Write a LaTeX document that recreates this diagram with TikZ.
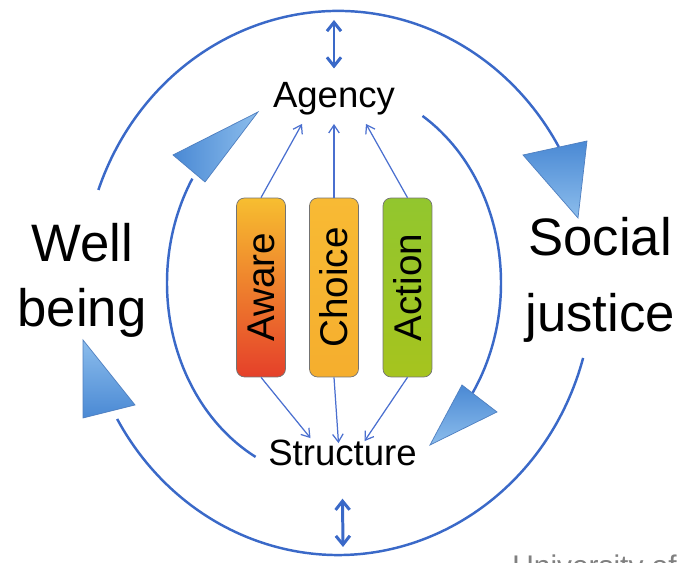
\documentclass[tikz,border=0pt]{standalone}
\usepackage{fontspec}
\setsansfont{Liberation Sans}
\usetikzlibrary{positioning, calc, arrows.meta}

\definecolor{ringblue}{HTML}{3A69C8}
\definecolor{linkblue}{HTML}{4A6FCF}
\definecolor{tridark}{HTML}{4A89D4}
\definecolor{trilight}{HTML}{8CBDEC}
\definecolor{triline}{HTML}{4F7FC0}
\definecolor{awaretop}{HTML}{F7BE30}
\definecolor{awaremid}{HTML}{F2982C}
\definecolor{awarebot}{HTML}{E5402A}
\definecolor{choicetop}{HTML}{F8BA34}
\definecolor{choicebot}{HTML}{F5AE2E}
\definecolor{actiontop}{HTML}{92C62E}
\definecolor{actionbot}{HTML}{A6C41E}

\begin{document}
\begin{tikzpicture}[x=0.02cm, y=0.02cm, font=\sffamily,
    ring/.style={draw=ringblue, line width=1.4pt},
    link/.style={draw=linkblue, line width=0.7pt, -{Straight Barb[length=4.5pt,width=6pt]}},
    updown/.style={draw=ringblue, line width=1.7pt, {Straight Barb[length=5pt,width=8pt]}-{Straight Barb[length=5pt,width=8pt]}},
    tri/.style={draw=triline, line width=0.4pt, top color=tridark, bottom color=trilight, shading angle=#1},
    tri/.default=0,
    bar/.style={draw=black!55, line width=0.4pt, rounded corners=0.16cm, minimum width=0.98cm, minimum height=3.58cm, inner sep=0pt, font=\sffamily\fontsize{22}{26}\selectfont},
    word/.style={inner sep=0pt, anchor=base, font=\sffamily\fontsize{20.8}{25}\selectfont},
    big/.style={inner sep=0pt, anchor=base, font=\sffamily\fontsize{30}{36}\selectfont}]
\useasboundingbox (0,0) rectangle (681,563);
\clip (0,0) rectangle (681,563);

% centres of the two rings
\coordinate (outer) at (338,280);
\coordinate (inner) at (334,280);

% outer ring
\draw[ring] ($(outer)+(160:255 and 272)$) arc[start angle=160, end angle=30, x radius=255, y radius=272];
\draw[ring] ($(outer)+(-16:255 and 272)$) arc[start angle=-16, end angle=-150, x radius=255, y radius=272];
\draw[tri=0] (523,408) -- (587,422) -- (578,345) -- cycle;
\draw[tri=180] (135,158) -- (83,145) -- (83,223) -- cycle;

% inner ring
\draw[ring] ($(inner)+(242:167 and 197)$) arc[start angle=242, end angle=148, x radius=167, y radius=197];
\draw[ring] ($(inner)+(58:167 and 197)$) arc[start angle=58, end angle=-34, x radius=167, y radius=197];
\draw[tri=90] (173,408) -- (205,381) -- (258,451) -- cycle;
\draw[tri=0] (462,178) -- (497,151) -- (430,118) -- cycle;

% words
\node[word] (agency) at (334,455) {Agency};
\node[word] (structure) at (342.5,97) {Structure};
\node[big] (well) at (82,301) {Well};
\node[big] (being) at (82,236) {being};
\node[big] (social) at (600,307) {Social};
\node[big] (justice) at (600,231) {justice};

% the three bars
\node[bar, top color=awaretop, middle color=awaremid, bottom color=awarebot] (aware) at (261,275.5) {\rotatebox{90}{Aware}};
\node[bar, top color=choicetop, bottom color=choicebot] (choice) at (334,275.5) {\rotatebox{90}{Choice}};
\node[bar, top color=actiontop, bottom color=actionbot] (action) at (407.5,275.5) {\rotatebox{90}{Action}};

\draw[link] (aware.north) -- ($(agency.south)+(-32,-8)$);
\draw[link] (choice.north) -- ($(agency.south)+(0,-8)$);
\draw[link] (action.north) -- ($(agency.south)+(32,-8)$);
\draw[link] (aware.south) -- ($(structure.north)+(-32,2)$);
\draw[link] (choice.south) -- ($(structure.north)+(-4,-3)$);
\draw[link] (action.south) -- ($(structure.north)+(22,-1)$);

% up-down arrows
\coordinate (ringtop) at (334,543);
\coordinate (ringbot) at (343,16);
\draw[updown] (ringtop) -- ($(agency.north)+(0,14)$);
\draw[updown] ($(structure.south)+(0,-32)$) -- (ringbot);

\node[anchor=base west, inner sep=0pt, text=black!50, font=\sffamily\fontsize{17}{20}\selectfont] (univ) at (512,-14) {University of};
\end{tikzpicture}
\end{document}
